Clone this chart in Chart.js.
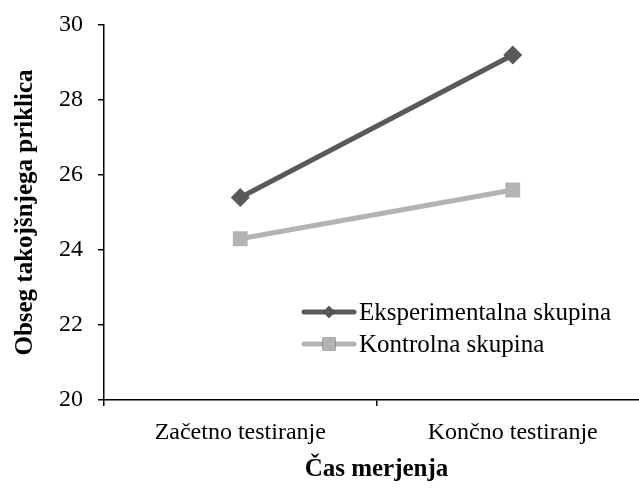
<!DOCTYPE html>
<html>
<head>
<meta charset="utf-8">
<script src="https://cdn.jsdelivr.net/npm/chart.js@4"></script>
<style>
  html, body { margin: 0; padding: 0; background: #fff; overflow: hidden; }
  #wrap { width: 660px; height: 489px; }
</style>
</head>
<body>
<div id="wrap"><canvas id="recallChart" width="660" height="489"></canvas></div>
<script>
// Obseg takojšnjega priklica - začetno vs končno testiranje
const categories = ['Začetno testiranje', 'Končno testiranje'];
const experimentalValues = [25.4, 29.2];
const controlValues = [24.3, 25.6];
const yTicks = [20, 22, 24, 26, 28, 30];

const darkGray = '#595959';
const lightGray = '#b3b3b3';
const serif = "'Liberation Serif', 'DejaVu Serif', serif";

// legend drawn inside the plot, like the original
const insideLegend = {
    id: 'insideLegend',
    afterDraw(chart) {
        const ctx = chart.ctx;
        const area = chart.chartArea;
        const x0 = area.left + 200;
        const rows = [area.top + 287, area.top + 319];
        const legendRadius = [6, 9];
        ctx.save();
        chart.data.datasets.forEach((ds, i) => {
            const y = rows[i];
            ctx.strokeStyle = ds.borderColor;
            ctx.lineWidth = 5;
            ctx.lineCap = 'round';
            ctx.beginPath();
            ctx.moveTo(x0, y);
            ctx.lineTo(x0 + 50, y);
            ctx.stroke();
            Chart.helpers.drawPoint(ctx, {
                pointStyle: ds.pointStyle,
                radius: legendRadius[i],
                borderWidth: 0
            }, x0 + 25, y);
            ctx.fillStyle = ds.backgroundColor;
            ctx.fill();
            ctx.fillStyle = '#000';
            ctx.font = '25px ' + serif;
            ctx.textBaseline = 'middle';
            ctx.textAlign = 'left';
            ctx.fillText(ds.label, x0 + 55, y + 1);
        });
        ctx.restore();
    }
};

new Chart(document.getElementById('recallChart'), {
    type: 'line',
    data: {
        labels: categories,
        datasets: [
            {
                label: 'Eksperimentalna skupina',
                data: experimentalValues,
                borderColor: darkGray,
                backgroundColor: darkGray,
                borderWidth: 5,
                pointStyle: 'rectRot',
                pointRadius: 9.5,
                pointBorderWidth: 0
            },
            {
                label: 'Kontrolna skupina',
                data: controlValues,
                borderColor: lightGray,
                backgroundColor: lightGray,
                borderWidth: 5,
                pointStyle: 'rect',
                pointRadius: 10.5,
                pointBorderWidth: 0
            }
        ]
    },
    options: {
        responsive: false,
        animation: false,
        layout: { padding: { top: 25, right: 11, left: 0, bottom: 0 } },
        plugins: {
            legend: { display: false },
            tooltip: { enabled: false }
        },
        scales: {
            x: {
                type: 'category',
                offset: true,
                grid: {
                    offset: true,
                    drawOnChartArea: false,
                    drawTicks: true,
                    tickLength: 6,
                    color: '#000',
                    lineWidth: 1.5
                },
                border: { color: '#000', width: 1.5 },
                ticks: {
                    color: '#000',
                    font: { family: serif, size: 24 },
                    padding: 12,
                    maxRotation: 0
                },
                title: {
                    display: true,
                    text: 'Čas merjenja',
                    color: '#000',
                    font: { family: serif, size: 25, weight: 'bold' },
                    padding: { top: 4, bottom: 4 }
                },
                afterFit(scale) { scale.height = 89; }
            },
            y: {
                min: 20,
                max: 30,
                afterBuildTicks(scale) {
                    scale.ticks = yTicks.map(v => ({ value: v }));
                },
                grid: {
                    drawOnChartArea: false,
                    drawTicks: true,
                    tickLength: 6,
                    color: '#000',
                    lineWidth: 1.5
                },
                border: { color: '#000', width: 1.5 },
                ticks: {
                    color: '#000',
                    font: { family: serif, size: 24 },
                    padding: 15
                },
                title: {
                    display: true,
                    text: 'Obseg takojšnjega priklica',
                    color: '#000',
                    font: { family: serif, size: 25, weight: 'bold' },
                    padding: { top: 11, bottom: 4 }
                },
                afterFit(scale) {
                    scale.width = 104;
                    scale.paddingTop = 0;
                    scale.paddingBottom = 0;
                }
            }
        }
    },
    plugins: [insideLegend]
});
</script>
</body>
</html>
